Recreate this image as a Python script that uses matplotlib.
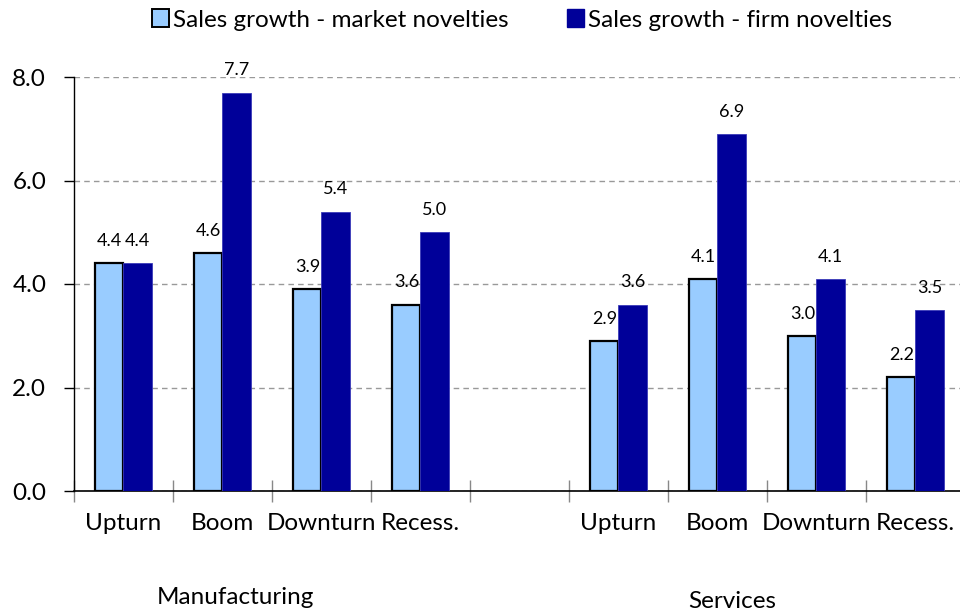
import numpy as np
import matplotlib.pyplot as plt
from matplotlib.patches import Patch

plt.rcParams['font.family'] = ['Lato', 'DejaVu Sans']

# Sales growth by business cycle phase (empty slot separates the two sectors)
phases = ['Upturn', 'Boom', 'Downturn', 'Recess.', '', 'Upturn', 'Boom', 'Downturn', 'Recess.']
market_novelties = [4.4, 4.6, 3.9, 3.6, np.nan, 2.9, 4.1, 3.0, 2.2]
firm_novelties = [4.4, 7.7, 5.4, 5.0, np.nan, 3.6, 6.9, 4.1, 3.5]
sectors = ['Manufacturing', 'Services']

light = '#99ccff'
dark = '#000099'

fig = plt.figure(figsize=(9.6, 6.13), dpi=100)
ax = fig.add_axes([74 / 960, 122 / 613, 886 / 960, 414 / 613])

x = np.arange(len(phases))
w = 0.285
b1 = ax.bar(x - w / 2, market_novelties, w, color=light, edgecolor='black', linewidth=1.6, zorder=3)
b2 = ax.bar(x + w / 2, firm_novelties, w, color=dark, edgecolor='#3a3ab8', linewidth=0.6, zorder=3)

# value labels above each bar
for bars, vals in [(b1, market_novelties), (b2, firm_novelties)]:
    for rect, v in zip(bars, vals):
        if np.isnan(v):
            continue
        ax.annotate(f'{v:.1f}', (rect.get_x() + rect.get_width() / 2, v),
                    xytext=(0, 16), textcoords='offset points',
                    ha='center', va='center', fontsize=13, annotation_clip=False)

ax.set_xlim(-0.5, 8.45)
ax.set_ylim(0, 8)
ax.set_yticks([0, 2, 4, 6, 8])
ax.set_yticklabels([f'{t:.1f}' for t in [0, 2, 4, 6, 8]], fontsize=17.5)
ax.yaxis.grid(True, linestyle=(0, (4, 3)), color='#999999', linewidth=1)
ax.set_axisbelow(True)

ax.set_xticks(x)
ax.set_xticklabels(phases, fontsize=17.5)
ax.tick_params(axis='x', which='major', length=0, pad=16)
ax.set_xticks(np.arange(-0.5, 8.5, 1), minor=True)
ax.tick_params(axis='x', which='minor', direction='inout', length=16, color='#888888', width=1)
ax.tick_params(axis='y', direction='out', length=7, width=1, pad=13)

for s in ['top', 'right']:
    ax.spines[s].set_visible(False)
ax.spines['left'].set_linewidth(1)
ax.spines['bottom'].set_linewidth(1.2)

fig.text(235 / 960, 1 - 598 / 613, sectors[0], ha='center', va='center', fontsize=17.5)
fig.text(732 / 960, 1 - 602 / 613, sectors[1], ha='center', va='center', fontsize=17.5)

handles = [Patch(facecolor=light, edgecolor='black', linewidth=1.4),
           Patch(facecolor=dark, edgecolor=dark)]
fig.legend(handles, ['Sales growth - market novelties', 'Sales growth - firm novelties'],
           loc='center', bbox_to_anchor=(522 / 960, 1 - 20 / 613), ncol=2, frameon=False,
           fontsize=17.5, handlelength=0.7, handleheight=0.7, handletextpad=0.15,
           columnspacing=2.4)

fig.savefig('out.png', dpi=100)
